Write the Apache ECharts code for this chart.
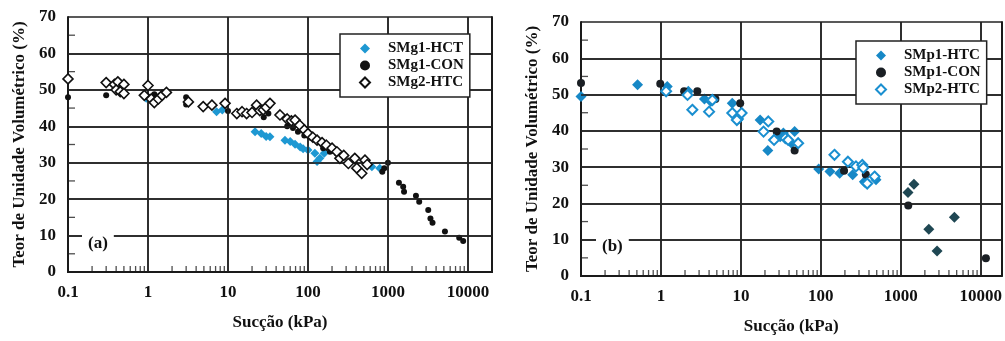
<!DOCTYPE html>
<html>
<head>
<meta charset="utf-8">
<script src="https://cdn.jsdelivr.net/npm/echarts@6/dist/echarts.min.js"></script>
<style>
html,body{margin:0;padding:0;background:#fff;}
#wrap{position:relative;width:1005px;height:341px;}
#pa{position:absolute;left:0;top:0;width:500px;height:341px;}
#pb{position:absolute;left:500px;top:0;width:505px;height:341px;}
</style>
</head>
<body>
<div id="wrap"><div id="pa"></div><div id="pb"></div></div>
<script>
// ---------- data (suction kPa, volumetric water content %) ----------
const xTickLabels = ['0.1', '1', '10', '100', '1000', '10000'];
const xGridValues = [1, 10, 100, 1000, 10000];
const yGridValues = [10, 20, 30, 40, 50, 60];
const yMinorValues = [5, 15, 25, 35, 45, 55, 65];

// Panel (a)
const smg1HCT = [[0.95,47.7],[7.2,44],[8.5,44.5],[21.8,38.5],[26,38],[30,37.2],[33.5,37.1],[51.6,36.2],[60,35.8],[69,35.1],[80,34.3],[87,33.8],[100,33.5],[122,32.6],[141,31.2],[130,30.3],[160,32.6],[630,28.9],[790,28.5]];
const smg1CON = [[0.1,48],[0.3,48.5],[0.42,50.5],[1.0,48.2],[1.2,48.8],[3.0,48],[3.0,46],[10,44.2],[28,42.5],[32,43.5],[55,40],[65,39.5],[75,38.5],[90,37.5],[110,36.8],[155,34],[188,33],[230,32.5],[280,31.5],[380,30.5],[850,27.5],[900,28.5],[1000,30],[1372,24.5],[1550,23.4],[1590,22],[2240,20.9],[2460,19.3],[3190,17],[3400,14.7],[3610,13.5],[5160,11.1],[7780,9.4],[8720,8.5]];
const smg2HTC = [[0.1,53],[0.3,52],[0.38,51.5],[0.42,52.2],[0.4,50],[0.45,49.5],[0.5,51.5],[0.5,49],[1.0,51.2],[0.9,48.5],[1.1,47.5],[1.2,46.5],[1.35,47.5],[1.5,48.5],[1.7,49.3],[3.2,46.7],[4.9,45.4],[6.3,45.8],[9.2,46.3],[12.9,43.5],[15,44],[17.1,43.5],[20,43.8],[22.8,45.8],[25,44.3],[27.6,44.5],[30,45.2],[33.5,46.3],[44.7,43.1],[55,42],[62,41.5],[69,41.7],[79,40.3],[90,39],[100,38],[115,37],[130,36.2],[150,35.5],[170,34.8],[200,34],[230,33],[251,31.2],[280,32],[320,29.8],[385,31.2],[408,28.5],[470,27.1],[516,30.7],[550,29.5]];

// Panel (b)
const smp1HTC = [[0.1,49.5],[0.51,52.7],[1.2,52.2],[2.2,50.9],[2.1,50],[3.5,48.8],[4.2,48.1],[7.8,47.6],[8.5,44],[9.4,43.3],[17.4,43],[21.7,34.6],[31,38.4],[34,39.4],[43,36.6],[47,39.8],[94,29.5],[130,28.8],[172,28.3],[250,27.9],[350,26],[360,25.7],[490,26.5],[1230,23],[1460,25.3],[2240,12.9],[2840,6.9],[4680,16.2]];
const smp1CON = [[0.1,53.2],[0.98,53],[1.95,50.9],[2.85,50.9],[4.8,48.8],[9.8,47.6],[28,39.8],[47,34.6],[195,29],[365,28],[1240,19.4],[11600,4.9]];
const smp2HTC = [[1.16,50.9],[2.15,49.9],[2.47,45.8],[4.0,45.3],[4.4,48.5],[7.8,44.9],[8.9,43],[10.2,44.9],[19.2,39.8],[22,42.6],[26,37.5],[36,38],[39,37.5],[52,36.6],[148,33.4],[218,31.5],[275,30.2],[330,30.6],[340,29.8],[470,27.4],[380,25.5]];

// ---------- chart ----------
const FONT = "'Liberation Serif',serif";
const INK = '#1a1a1a';
const minorTickPts = [];
for (let e = -1; e <= 3; e++) for (let k = 2; k <= 9; k++) minorTickPts.push([+(k * Math.pow(10, e)).toPrecision(3), 0]);
const yMinorPts = yMinorValues.map(v => [0.1, v]);

function isDecade(v) { const l = Math.log10(v); return Math.abs(l - Math.round(l)) < 1e-6; }
function xLabel(v) {
  if (!isDecade(v)) return '';
  const i = Math.round(Math.log10(v)) + 1;
  return xTickLabels[i] || '';
}

function buildPanel(p) {
  return {
    animation: false,
    backgroundColor: '#fff',
    grid: { left: p.grid[0], top: p.grid[1], right: p.grid[2], bottom: p.grid[3] },
    xAxis: [
      { type: 'log', logBase: 10, min: 0.1, max: p.xMax,
        axisLine: { show: true, lineStyle: { color: INK, width: 2 } },
        axisTick: { show: false },
        splitLine: { show: true, lineStyle: { color: '#222', width: 1.5 } },
        axisLabel: { formatter: xLabel, color: '#111', fontFamily: FONT, fontWeight: 'bold', fontSize: 17, margin: 12 },
        name: 'Sucção (kPa)', nameLocation: 'middle', nameGap: 42,
        nameTextStyle: { color: '#111', fontFamily: FONT, fontWeight: 'bold', fontSize: 17 } },
      { type: 'log', logBase: 10, min: 0.1, max: p.xMax, position: 'top',
        axisLine: { show: true, lineStyle: { color: INK, width: 2 } },
        axisTick: { show: false }, axisLabel: { show: false }, splitLine: { show: false } }
    ],
    yAxis: [
      { type: 'value', min: 0, max: 70, interval: 10,
        axisLine: { show: true, lineStyle: { color: INK, width: 2 } },
        axisTick: { show: false },
        splitLine: { show: true, lineStyle: { color: '#222', width: 1.5 } },
        axisLabel: { color: '#111', fontFamily: FONT, fontWeight: 'bold', fontSize: 17, margin: 12 },
        name: 'Teor de Unidade Volumétrico (%)', nameLocation: 'middle', nameGap: 39,
        nameTextStyle: { color: '#111', fontFamily: FONT, fontWeight: 'bold', fontSize: 17 } },
      { type: 'value', min: 0, max: 70, interval: 10, position: 'right',
        axisLine: { show: true, lineStyle: { color: INK, width: 2 } },
        axisTick: { show: false }, axisLabel: { show: false }, splitLine: { show: false } }
    ],
    legend: {
      orient: 'vertical', left: p.legend[0], top: p.legend[1], itemWidth: 10, itemHeight: 10, itemGap: 2,
      backgroundColor: '#fff', borderColor: '#222', borderWidth: 1.5, z: 10,
      padding: [7, 6, 7, 19],
      textStyle: { color: '#111', fontFamily: FONT, fontWeight: 'bold', fontSize: 15, padding: [0, 0, 0, 13] },
      data: p.series.map(s => s.legendColor ? { name: s.name, itemStyle: { color: s.legendColor } } : s.name)
    },
    graphic: [{ type: 'text', left: p.tag[1], top: p.tag[2], z: 30,
      style: { text: p.tag[0], font: "bold 17px 'Liberation Serif'", fill: '#111', backgroundColor: '#fff', padding: [2, 6] } }],
    series: [
      // grid lines + minor x ticks (axis decoration, placed through the axis scales)
      { type: 'scatter', xAxisIndex: 0, yAxisIndex: 0, data: minorTickPts, silent: true, symbol: 'rect',
        symbolSize: [1.3, 5], symbolOffset: [0, -3.5], clip: false, itemStyle: { color: '#222' }, z: 2,
        markLine: {
          silent: true, symbol: ['none', 'none'], label: { show: false }, animation: false,
          lineStyle: { color: '#222', width: 1.5, type: 'solid' },
          emphasis: { disabled: true },
          data: xGridValues.map(v => ({ xAxis: v })).concat(yGridValues.map(v => ({ yAxis: v })))
        } },
      // minor y ticks on the left axis
      { type: 'scatter', xAxisIndex: 0, yAxisIndex: 0, data: yMinorPts, silent: true, symbol: 'rect',
        symbolSize: [6, 1.3], symbolOffset: [4, 0], clip: false, itemStyle: { color: '#222' }, z: 2 }
    ].concat(p.series.map((s, i) => ({
      name: s.name, type: 'scatter', xAxisIndex: 0, yAxisIndex: 0, data: s.data, symbol: s.symbol,
      symbolSize: s.size, itemStyle: s.style, z: 3 + i
    })))
  };
}

const panelA = {
  grid: [68, 17, 8, 69], xMax: 20000, legend: [340, 34], tag: ['(a)', 82, 233],
  series: [
    { name: 'SMg1-HCT', data: smg1HCT, symbol: 'diamond', size: 9, style: { color: '#1e98d2', opacity: 1 } },
    { name: 'SMg1-CON', data: smg1CON, symbol: 'circle', size: 6, style: { color: '#111', opacity: 1 } },
    { name: 'SMg2-HTC', data: smg2HTC, symbol: 'diamond', size: 10, style: { color: '#fff', borderColor: '#111', borderWidth: 1.6, opacity: 1 } }
  ]
};
const panelB = {
  grid: [81, 22, 0, 65], xMax: 18200, legend: [356, 41], tag: ['(b)', 96, 236],
  series: [
    { name: 'SMp1-HTC', data: smp1HTC, symbol: 'diamond', size: 11, legendColor: '#1788c6',
      style: { color: q => (q.value[0] > 1000 ? '#1f4753' : '#1788c6'), opacity: 1 } },
    { name: 'SMp1-CON', data: smp1CON, symbol: 'circle', size: 8, style: { color: '#1a1f24', opacity: 1 } },
    { name: 'SMp2-HTC', data: smp2HTC, symbol: 'diamond', size: 10, style: { color: '#fff', borderColor: '#1a8fd0', borderWidth: 2, opacity: 1 } }
  ]
};

echarts.init(document.getElementById('pa')).setOption(buildPanel(panelA));
echarts.init(document.getElementById('pb')).setOption(buildPanel(panelB));
</script>
</body>
</html>
